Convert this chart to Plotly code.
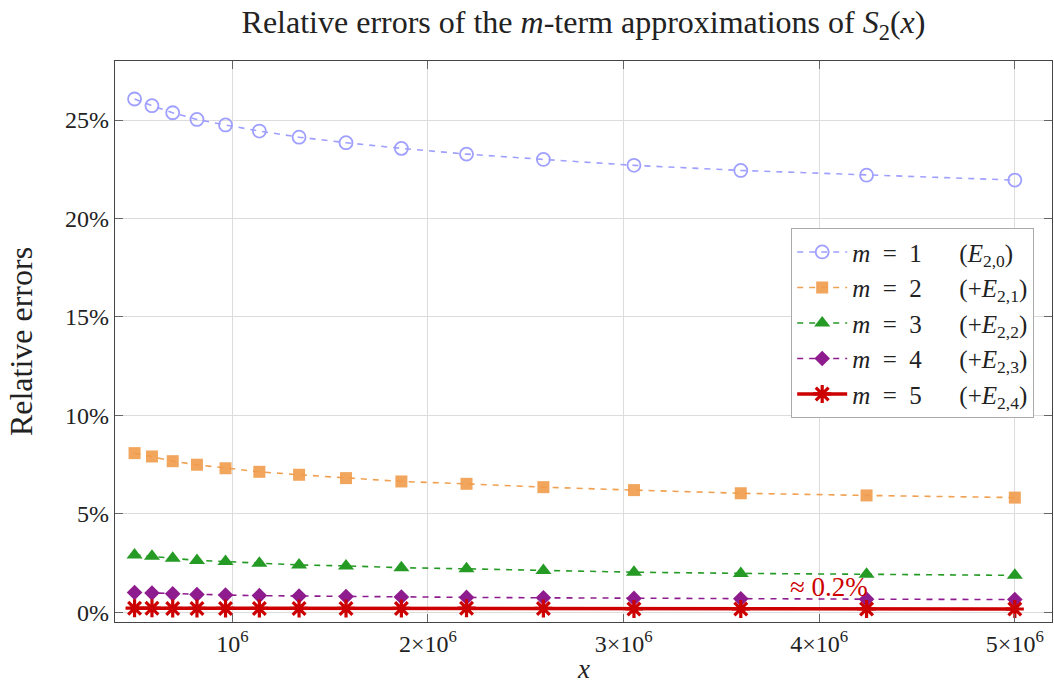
import plotly.graph_objects as go

x_vals = [500000, 589000, 695000, 819000, 965000, 1138000, 1341000, 1581000,
          1864000, 2197000, 2590000, 3053000, 3599000, 4242000, 5000000]

err_m1 = [26.07, 25.73, 25.37, 25.03, 24.75, 24.44, 24.13, 23.85, 23.56, 23.27, 23.00, 22.70, 22.44, 22.20, 21.95]
err_m2 = [8.08, 7.91, 7.67, 7.49, 7.31, 7.13, 6.98, 6.81, 6.64, 6.52, 6.35, 6.20, 6.04, 5.93, 5.82]
err_m3 = [2.91, 2.84, 2.74, 2.63, 2.57, 2.48, 2.40, 2.35, 2.26, 2.20, 2.11, 2.03, 1.97, 1.92, 1.87]
err_m4 = [1.00, 0.97, 0.93, 0.90, 0.87, 0.84, 0.82, 0.79, 0.77, 0.75, 0.73, 0.70, 0.68, 0.66, 0.64]
err_m5 = [0.20, 0.20, 0.19, 0.19, 0.19, 0.19, 0.19, 0.19, 0.19, 0.20, 0.19, 0.16, 0.16, 0.16, 0.16]

EN = "\u2002"
EM = "\u2003"
legend_names = [
    "<i>m</i>" + EN + "=" + EN + "1" + EM + EN + "(<i>E</i><sub>2,0</sub>)",
    "<i>m</i>" + EN + "=" + EN + "2" + EM + EN + "(+<i>E</i><sub>2,1</sub>)",
    "<i>m</i>" + EN + "=" + EN + "3" + EM + EN + "(+<i>E</i><sub>2,2</sub>)",
    "<i>m</i>" + EN + "=" + EN + "4" + EM + EN + "(+<i>E</i><sub>2,3</sub>)",
    "<i>m</i>" + EN + "=" + EN + "5" + EM + EN + "(+<i>E</i><sub>2,4</sub>)",
]

x_tickvals = [1000000, 2000000, 3000000, 4000000, 5000000]
x_ticktext = ["10<sup>6</sup>", "2×10<sup>6</sup>", "3×10<sup>6</sup>", "4×10<sup>6</sup>", "5×10<sup>6</sup>"]
y_tickvals = [0, 5, 10, 15, 20, 25]
y_ticktext = ["0%", "5%", "10%", "15%", "20%", "25%"]

FONT = "Liberation Serif, DejaVu Serif, serif"
DASH = "6px,6px"
TXT = "#222"

fig = go.Figure()

fig.add_trace(go.Scatter(
    x=x_vals, y=err_m1, name=legend_names[0], mode="lines+markers",
    line=dict(color="#9f9fff", width=1.6, dash=DASH),
    marker=dict(symbol="circle-open", size=13, color="#9f9fff", line=dict(width=1.8)),
))
fig.add_trace(go.Scatter(
    x=x_vals, y=err_m2, name=legend_names[1], mode="lines+markers",
    line=dict(color="#f0a050", width=1.6, dash=DASH),
    marker=dict(symbol="square", size=12, color="rgba(240,155,75,0.9)", line=dict(width=0)),
))
fig.add_trace(go.Scatter(
    x=x_vals, y=err_m3, name=legend_names[2], mode="lines+markers",
    line=dict(color="#259b25", width=1.6, dash=DASH),
    marker=dict(symbol="triangle-up", size=14, color="#259b25", line=dict(width=0)),
))
fig.add_trace(go.Scatter(
    x=x_vals, y=err_m4, name=legend_names[3], mode="lines+markers",
    line=dict(color="#8e1c8e", width=1.6, dash=DASH),
    marker=dict(symbol="diamond", size=12, color="#8e1c8e", line=dict(width=0)),
))
fig.add_trace(go.Scatter(
    x=x_vals, y=err_m5, name=legend_names[4], mode="lines+markers",
    line=dict(color="#cc0000", width=3.5),
    marker=dict(symbol="asterisk-open", size=15, color="#cc0000", line=dict(width=3.2, color="#cc0000")),
))

fig.add_annotation(
    x=4050000, y=1.3, text="≈ 0.2%", showarrow=False,
    font=dict(family=FONT, size=27, color="#cc0000"),
)
fig.add_annotation(
    xref="paper", yref="paper", x=0.5, y=-0.084, yanchor="middle",
    text="<i>x</i>", showarrow=False,
    font=dict(family=FONT, size=27, color=TXT),
)

axis_common = dict(
    showline=True, linecolor="#444", linewidth=1.2, mirror="ticks",
    ticks="inside", ticklen=8, tickcolor="#666", tickwidth=1,
    showgrid=True, gridcolor="#dcdcdc", gridwidth=1, zeroline=False,
    tickfont=dict(family=FONT, size=24, color=TXT),
)

fig.update_layout(
    width=1054, height=686,
    paper_bgcolor="white", plot_bgcolor="white",
    margin=dict(l=115, r=2, t=61, b=64),
    title=dict(
        text="Relative errors of the <i>m</i>-term approximations of <i>S</i><sub>2</sub>(<i>x</i>)",
        xref="paper", x=0.5, xanchor="center", y=0.968, yanchor="middle",
        font=dict(family=FONT, size=32, color=TXT),
    ),
    xaxis=dict(
        range=[400000, 5190000], tickvals=x_tickvals, ticktext=x_ticktext,
        **axis_common,
    ),
    yaxis=dict(
        range=[-0.5, 28.0], tickvals=y_tickvals, ticktext=y_ticktext,
        title=dict(text="Relative errors", font=dict(family=FONT, size=32, color=TXT), standoff=22),
        **axis_common,
    ),
    legend=dict(
        x=0.981, y=0.702, xanchor="right", yanchor="top",
        bgcolor="white", bordercolor="#aaa", borderwidth=1,
        font=dict(family=FONT, size=25, color=TXT),
        itemwidth=50,
    ),
    showlegend=True,
)

fig.write_html(
    "out.html",
    config={"displayModeBar": False},
    post_script="document.body.style.margin='0';document.body.style.overflow='hidden';",
)
